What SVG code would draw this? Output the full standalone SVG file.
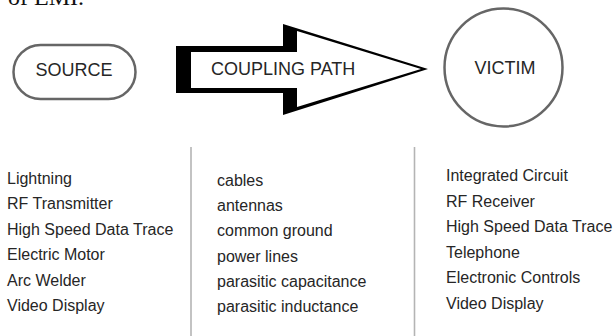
<svg xmlns="http://www.w3.org/2000/svg" width="614" height="336" viewBox="0 0 614 336">
<style>
.lbl{font-family:"Liberation Sans",Arial,sans-serif;fill:#262626}
.big{font-size:18px;text-anchor:middle}
.item{font-size:16px}
.sep{stroke:#b4b4b4;stroke-width:1.6}
</style>
<rect width="614" height="336" fill="#fff"/>
<text x="8" y="5" font-family="'Liberation Serif',serif" font-size="24" fill="#111">of EMI.</text>
<g id="source">
<rect x="13.5" y="45" width="122" height="54" rx="27" fill="#fff" stroke="#666" stroke-width="2.5"/>
<text class="lbl big" x="74" y="76">SOURCE</text>
</g>
<g id="coupling-path">
<polygon points="176,46 283,46 283,24 428,69 283,115 283,93 176,93" fill="#000"/>
<polygon points="191,52 297,52 297,31 421,69 297,107 297,88 191,88" fill="#fff"/>
<text class="lbl" x="211" y="75" font-size="18">COUPLING PATH</text>
</g>
<g id="victim">
<circle cx="503.5" cy="67.5" r="59" fill="#fff" stroke="#666" stroke-width="2.5"/>
<text class="lbl big" x="505" y="74" font-size="19">VICTIM</text>
</g>
<g id="connectors">
<line class="sep" x1="191" y1="147" x2="191" y2="336"/>
<line class="sep" x1="414.5" y1="147" x2="414.5" y2="336"/>
</g>
<g id="source-list" class="lbl item">
<text x="7" y="183.5">Lightning</text>
<text x="7" y="209">RF Transmitter</text>
<text x="7" y="234.5">High Speed Data Trace</text>
<text x="7" y="260">Electric Motor</text>
<text x="7" y="285.5">Arc Welder</text>
<text x="7" y="311">Video Display</text>
</g>
<g id="path-list" class="lbl item">
<text x="217" y="186">cables</text>
<text x="217" y="211.2">antennas</text>
<text x="217" y="236.4">common ground</text>
<text x="217" y="261.6">power lines</text>
<text x="217" y="286.8">parasitic capacitance</text>
<text x="217" y="312">parasitic inductance</text>
</g>
<g id="victim-list" class="lbl item">
<text x="446" y="181">Integrated Circuit</text>
<text x="446" y="206.5">RF Receiver</text>
<text x="446" y="232">High Speed Data Trace</text>
<text x="446" y="257.5">Telephone</text>
<text x="446" y="283">Electronic Controls</text>
<text x="446" y="308.5">Video Display</text>
</g>
</svg>
